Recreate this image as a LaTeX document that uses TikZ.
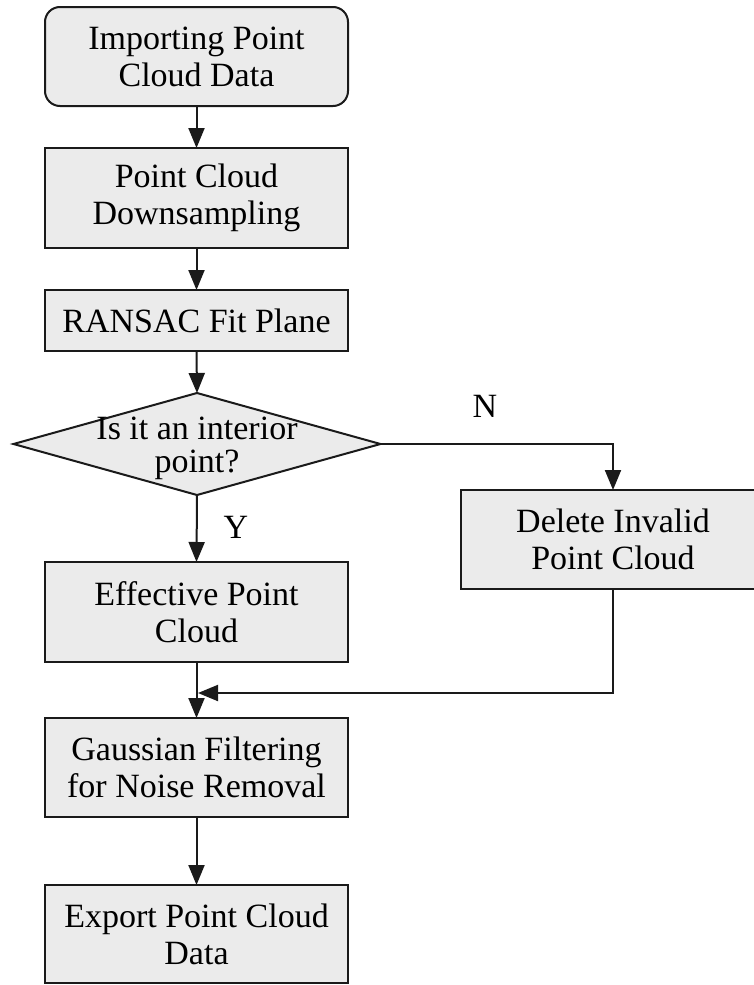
\documentclass[tikz,border=0pt]{standalone}
\usepackage{fontspec}
\setmainfont{Liberation Serif}
\usetikzlibrary{arrows.meta,shapes.geometric}
\definecolor{boxfill}{HTML}{EBEBEB}
\definecolor{boxline}{HTML}{1A1A1A}
\begin{document}
\begin{tikzpicture}[x=1pt,y=-1pt,
  stepbox/.style={draw=boxline,fill=boxfill,line width=2pt,minimum width=303pt,
    inner sep=0pt,outer sep=0pt,align=center,font=\fontsize{34}{37}\selectfont},
  decbox/.style={draw=boxline,fill=boxfill,line width=2pt,shape=diamond,
    inner sep=0pt,outer sep=0pt,minimum width=367pt,minimum height=102pt},
  lbl/.style={font=\fontsize{34}{37}\selectfont,inner sep=0pt},
  arr/.style={draw=boxline,line width=2pt,-{Triangle[length=20pt,width=16pt]}},
  ln/.style={draw=boxline,line width=2pt}]
\useasboundingbox (0,0) rectangle (753,985);
\fill[white] (0,0) rectangle (753,985);
\node[stepbox,rounded corners=15pt,minimum height=99pt] (b1) at (196.5,56.5) {Importing Point\\Cloud Data};
\node[stepbox,minimum height=100pt] (b2) at (196.5,198) {Point Cloud\\Downsampling};
\node[stepbox,minimum height=61pt] (b3) at (196.5,320.5) {RANSAC Fit Plane};
\node[decbox] (d) at (197,444) {};
\node[lbl,align=center,font=\fontsize{34}{33}\selectfont] (dt) at (197,448) {Is it an interior\\point?};
\node[stepbox,minimum height=100pt] (eff) at (196.5,612) {Effective Point\\Cloud};
\node[stepbox,minimum width=304pt,minimum height=99pt] (del) at (613,539.5) {Delete Invalid\\Point Cloud};
\node[stepbox,minimum height=99pt] (gau) at (196.5,767.5) {Gaussian Filtering\\for Noise Removal};
\node[stepbox,minimum height=98pt] (exp) at (196.5,934) {Export Point Cloud\\Data};
\node[lbl] (nl) at (485,406) {N};
\node[lbl] (yl) at (236,527) {Y};
\coordinate (m) at (198,693);
\draw[arr] (b1.south) -- (b2.north);
\draw[arr] (b2.south) -- (b3.north);
\draw[arr] (b3.south) -- (d.north);
\draw[arr] (d.south) -- (eff.north);
\draw[arr] (d.east) -| (del.north);
\draw[arr] (eff.south) -- (gau.north);
\draw[arr] (del.south) |- (m);
\draw[arr] (gau.south) -- (exp.north);
\end{tikzpicture}
\end{document}
